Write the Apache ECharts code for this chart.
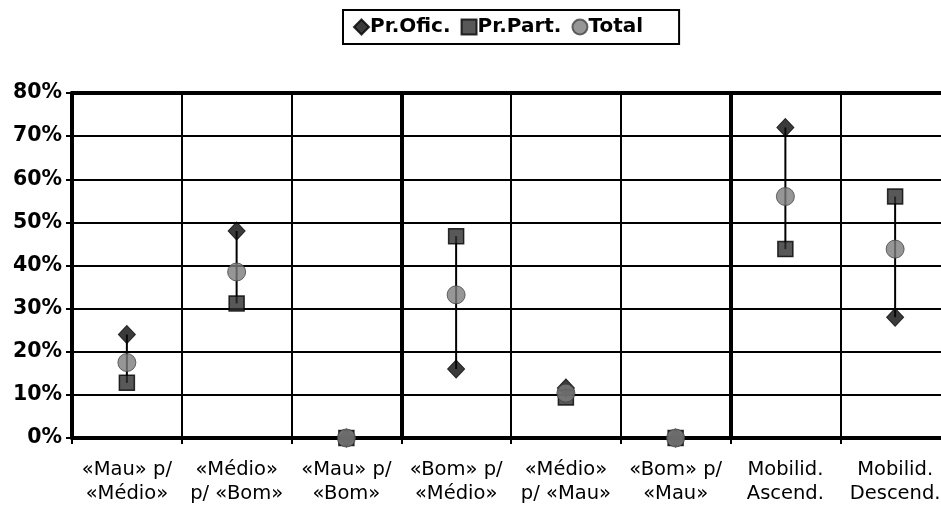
<!DOCTYPE html>
<html>
<head>
<meta charset="utf-8">
<script src="https://cdn.jsdelivr.net/npm/echarts@6/dist/echarts.min.js"></script>
<style>html,body{margin:0;padding:0;background:#fff;overflow:hidden;}#c{width:952px;height:507px;}</style>
</head>
<body>
<div id="c"></div>
<script>
var categories = ['«Mau» p/\n«Médio»', '«Médio»\np/ «Bom»', '«Mau» p/\n«Bom»', '«Bom» p/\n«Médio»', '«Médio»\np/ «Mau»', '«Bom» p/\n«Mau»', 'Mobilid.\nAscend.', 'Mobilid.\nDescend.'];
var prOfic = [24, 48, 0, 16, 11.6, 0, 72, 28];
var prPart = [12.8, 31.2, 0, 46.8, 9.4, 0, 43.8, 56];
var total = [17.5, 38.5, 0, 33.2, 10.4, 0, 56, 43.8];
var yTicks = [0, 10, 20, 30, 40, 50, 60, 70, 80];

var hiLo = categories.map(function (c, i) {
  var v = [prOfic[i], prPart[i], total[i]];
  return [i, Math.min.apply(null, v), Math.max.apply(null, v)];
});

var chart = echarts.init(document.getElementById('c'), null, {renderer: 'canvas'});
var font = '"DejaVu Sans", Verdana, sans-serif';
chart.setOption({
  animation: false,
  backgroundColor: '#fff',
  legend: {
    left: 343, top: 10,
    itemWidth: 15, itemHeight: 15, itemGap: 10,
    padding: [7, 36, 7, 10],
    borderColor: '#000', borderWidth: 2,
    textStyle: {fontFamily: font, fontWeight: 'bold', fontSize: 20, color: '#000', padding: [0, 0, 0, -4]},
    data: ['Pr.Ofic.', 'Pr.Part.', 'Total']
  },
  grid: {left: 72, top: 93, width: 878, bottom: 69},
  xAxis: [{
    type: 'category', data: categories, position: 'bottom',
    axisLine: {show: true, lineStyle: {color: '#000', width: 4}},
    axisTick: {show: true, length: 6, lineStyle: {color: '#000', width: 2}},
    axisLabel: {fontFamily: font, fontSize: 19.5, color: '#000', lineHeight: 24, margin: 20, interval: 0},
    splitLine: {show: true, lineStyle: {color: '#000', width: 2}}
  }, {
    type: 'category', data: categories, position: 'top',
    axisLine: {show: true, lineStyle: {color: '#000', width: 4}},
    axisTick: {show: false}, axisLabel: {show: false},
    splitLine: {show: true, interval: function (idx) { return idx === 3 || idx === 6; }, lineStyle: {color: '#000', width: 4}}
  }],
  yAxis: {
    type: 'value', min: 0, max: 80, interval: 10,
    axisLine: {show: true, lineStyle: {color: '#000', width: 4}},
    axisTick: {show: true, length: 6, lineStyle: {color: '#000', width: 2}},
    axisLabel: {fontFamily: font, fontWeight: 'bold', fontSize: 20.5, color: '#000', margin: 10,
      formatter: function (v) { return yTicks.indexOf(v) >= 0 ? v + '%' : ''; }},
    splitLine: {show: true, lineStyle: {color: '#000', width: 2}}
  },
  series: [{
    type: 'custom', z: 1, silent: true,
    data: hiLo,
    renderItem: function (params, api) {
      var p1 = api.coord([api.value(0), api.value(1)]);
      var p2 = api.coord([api.value(0), api.value(2)]);
      return {type: 'line', shape: {x1: p1[0], y1: p1[1], x2: p2[0], y2: p2[1]}, style: {stroke: '#000', lineWidth: 2}};
    }
  }, {
    name: 'Pr.Ofic.', type: 'scatter', z: 3, data: prOfic,
    symbol: 'diamond', symbolSize: [17, 18],
    itemStyle: {color: '#0a0a0a', borderColor: '#000', borderWidth: 1}
  }, {
    name: 'Pr.Part.', type: 'scatter', z: 4, data: prPart,
    symbol: 'rect', symbolSize: [15, 15],
    itemStyle: {color: '#2e2e2e', borderColor: '#000', borderWidth: 1.5}
  }, {
    name: 'Total', type: 'scatter', z: 5, data: total,
    symbol: 'circle', symbolSize: 18,
    itemStyle: {color: '#7c7c7c', borderColor: '#444', borderWidth: 1}
  }]
});
</script>
</body>
</html>
